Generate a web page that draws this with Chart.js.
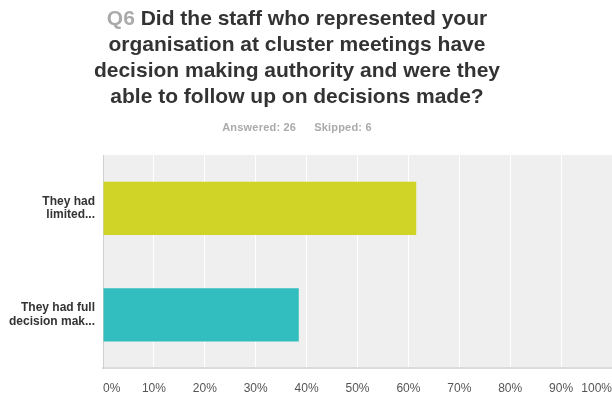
<!DOCTYPE html>
<html>
<head>
<meta charset="utf-8">
<script src="https://cdn.jsdelivr.net/npm/chart.js@4"></script>
<style>
  html, body { margin: 0; padding: 0; background: #fff; }
  #wrap { position: relative; width: 612px; height: 398px; overflow: hidden; }
  #title {
    position: absolute; left: 0; top: 5px; width: 594px;
    text-align: center; font: bold 21px "Liberation Sans", Arial, sans-serif;
    line-height: 26px; color: #333;
  }
  #title .q { color: #aaa; }
  #sub {
    position: absolute; left: 0; top: 121px; width: 594px;
    text-align: center; font: bold 11px "Liberation Sans", Arial, sans-serif;
    color: #aaa; letter-spacing: 0.2px;
  }
  #sub span { margin: 0 9px; }
  canvas { position: absolute; left: 0; top: 0; }
</style>
</head>
<body>
<div id="wrap">
  <canvas id="myBarChart" width="612" height="398"></canvas>
  <div id="title"><span class="q">Q6</span> Did the staff who represented your<br>organisation at cluster meetings have<br>decision making authority and were they<br>able to follow up on decisions made?</div>
  <div id="sub"><span>Answered: 26</span><span>Skipped: 6</span></div>
</div>
<script>
// Respostas (percentual)
const categories = [['They had', 'limited...'], ['They had full', 'decision mak...']];
const percentages = [61.54, 38.46];
const barColors = ['#cfd426', '#32bdbf'];
const tickValues = [0, 10, 20, 30, 40, 50, 60, 70, 80, 90, 100];

// Fundo cinza da área do gráfico
const plotBackground = {
    id: 'plotBackground',
    beforeDraw(chart) {
        const { ctx, chartArea } = chart;
        ctx.save();
        ctx.fillStyle = '#efefef';
        ctx.fillRect(chartArea.left, chartArea.top, chartArea.right - chartArea.left, chartArea.bottom - chartArea.top);
        ctx.restore();
    }
};

const data = {
    labels: categories,
    datasets: [{
        data: percentages,
        backgroundColor: barColors,
        barPercentage: 0.5,
        categoryPercentage: 1.0
    }]
};

const config = {
    type: 'bar',
    data: data,
    plugins: [plotBackground],
    options: {
        indexAxis: 'y',
        responsive: false,
        animation: false,
        layout: { padding: { top: 155, left: 0, right: 0, bottom: 0 } },
        plugins: {
            legend: { display: false },
            tooltip: { enabled: false }
        },
        scales: {
            x: {
                min: 0,
                max: 100,
                afterBuildTicks: function(scale) {
                    scale.ticks = tickValues.map(v => ({ value: v }));
                },
                afterFit: function(scale) {
                    scale.height = 30;
                    // rótulos alinhados por dentro, sem folga lateral
                    scale.paddingLeft = 0;
                    scale.paddingRight = 0;
                },
                grid: { color: '#ffffff', lineWidth: 1, drawTicks: false },
                border: { display: true, color: '#dcdcdc', width: 2 },
                ticks: {
                    align: 'inner',
                    padding: 13,
                    color: '#555',
                    font: { family: '"Liberation Sans", Arial, sans-serif', size: 12 },
                    callback: v => v + '%'
                }
            },
            y: {
                afterFit: function(scale) { scale.width = 103; },
                grid: { display: false, drawTicks: false },
                border: { display: true, color: '#d0d0d0', width: 1 },
                ticks: {
                    padding: 8,
                    color: '#333',
                    font: { family: '"Liberation Sans", Arial, sans-serif', size: 12, weight: 'bold', lineHeight: 1.15 }
                }
            }
        }
    }
};

const ctx = document.getElementById('myBarChart').getContext('2d');
const myBarChart = new Chart(ctx, config);
</script>
</body>
</html>
